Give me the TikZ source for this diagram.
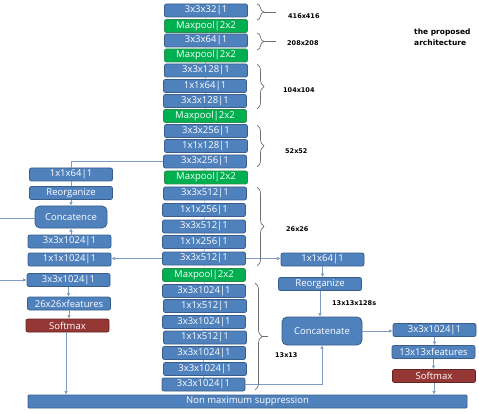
\documentclass[tikz,border=0pt]{standalone}
\usepackage{fontspec}
\usetikzlibrary{arrows.meta,decorations.pathreplacing,backgrounds}
\newfontfamily\boxfont{Open Sans}
\newfontfamily\lblfont{DejaVu Sans}
\definecolor{bfill}{HTML}{4F81BD}
\definecolor{bdraw}{HTML}{385D8A}
\definecolor{gfill}{HTML}{00B050}
\definecolor{gdraw}{HTML}{2E8B4F}
\definecolor{rfill}{HTML}{953735}
\definecolor{rdraw}{HTML}{632523}
\definecolor{conn}{HTML}{7F9DC4}
\definecolor{brc}{HTML}{6E6E6E}
\tikzset{
  blk/.style={draw=bdraw,fill=bfill,line width=0.8pt,rounded corners=2pt,minimum width=83pt,minimum height=13pt,inner sep=0pt,text=white,font=\boxfont\fontsize{9.5}{10}\selectfont},
  mp/.style={blk,draw=gdraw,fill=gfill},
  sm/.style={blk,draw=rdraw,fill=rfill},
  cat/.style={blk,rounded corners=5pt},
  cn/.style={draw=conn,line width=0.6pt},
  ca/.style={cn,-{Latex[length=3.5pt,width=3.5pt]}},
  br/.style={draw=brc,line width=0.7pt,decorate,decoration={brace,amplitude=7pt}},
  lbl/.style={anchor=west,inner sep=0pt,font=\lblfont\bfseries\fontsize{6.5}{7}\selectfont},
}
\begin{document}
\begin{tikzpicture}[x=1pt,y=-1pt]
\useasboundingbox (0,0) rectangle (479,414);
% main column
\node[blk] (m1) at (206,10.5) {3x3x32|1};
\node[mp]  (m2) at (206,26) {Maxpool|2x2};
\node[blk] (m3) at (206,40.5) {3x3x64|1};
\node[mp]  (m4) at (206,55.5) {Maxpool|2x2};
\node[blk] (m5) at (206,70.5) {3x3x128|1};
\node[blk] (m6) at (205,86) {1x1x64|1};
\node[blk] (m7) at (205,101) {3x3x128|1};
\node[mp]  (m8) at (205,116) {Maxpool|2x2};
\node[blk] (m9) at (206,131) {3x3x256|1};
\node[blk] (m10) at (206,146) {1x1x128|1};
\node[blk] (m11) at (205,161.5) {3x3x256|1};
\node[mp]  (m12) at (206,177.5) {Maxpool|2x2};
\node[blk] (m13) at (205,193.5) {3x3x512|1};
\node[blk] (m14) at (204,210) {1x1x256|1};
\node[blk] (m15) at (204,226.5) {3x3x512|1};
\node[blk] (m16) at (204,242) {1x1x256|1};
\node[blk] (m17) at (204,258.5) {3x3x512|1};
\node[mp]  (m18) at (204,275) {Maxpool|2x2};
\node[blk] (m19) at (204,291) {3x3x1024|1};
\node[blk] (m20) at (205,306) {1x1x512|1};
\node[blk] (m21) at (204,322) {3x3x1024|1};
\node[blk] (m22) at (205,337.5) {1x1x512|1};
\node[blk] (m23) at (204,353) {3x3x1024|1};
\node[blk] (m24) at (205,369) {3x3x1024|1};
\node[blk] (m25) at (203.5,384.5) {3x3x1024|1};
\begin{pgfonlayer}{background}
\draw[cn,line width=0.4pt] (m1.center) -- (m25.center);
\end{pgfonlayer}
% NMS
\node[blk,rounded corners=1pt,minimum width=439pt,minimum height=13pt] (nms) at (247.5,401.5) {Non maximum suppression};
% left branch
\node[blk] (l1) at (71,174.5) {1x1x64|1};
\node[blk] (l2) at (71,193) {Reorganize};
\node[cat,minimum width=72pt,minimum height=22pt] (l3) at (71,217) {Concatence};
\node[blk] (l4) at (69.5,241.5) {3x3x1024|1};
\node[blk] (l5) at (69.5,259.5) {1x1x1024|1};
\node[blk] (l6) at (68.5,280) {3x3x1024|1};
\node[blk] (l7) at (69,303.5) {26x26xfeatures};
\node[sm]  (l8) at (67.5,325.5) {Softmax};
% right branch
\node[blk] (r1) at (322.5,259.5) {1x1x64|1};
\node[blk] (r2) at (320,284) {Reorganize};
\node[cat,minimum width=80pt,minimum height=28pt] (r3) at (322,331) {Concatenate};
\node[blk] (r4) at (434.5,330) {3x3x1024|1};
\node[blk] (r5) at (433.5,352) {13x13xfeatures};
\node[sm]  (r6) at (434,376) {Softmax};
% coordinates for free ends
\coordinate (e1) at (0,218);
\coordinate (e2) at (0,280);
% connectors left
\draw[cn] (m11.west) -| (l1.north);
\draw[cn] (l1.south) -- (l2.north);
\draw[ca] (l2.south) -- (l3.north);
\draw[ca] (l4.north -| l3.south) -- (l3.south);
\draw[cn] (e1) -- (e1 -| l3.west);
\draw[ca] (m17.west) -- (m17.west -| l5.east);
\draw[ca] (e2) -- (l6.west);
\draw[ca] (l6.south) -- (l7.north -| l6.south);
\draw[ca] (l7.south) -- (l8.north -| l7.south);
\draw[ca] ([xshift=-1.5pt]l8.south) -- ([xshift=-1.5pt]l8.south |- nms.north);
% connectors right
\draw[ca] (m17.east) -- (m17.east -| r1.west);
\draw[ca] (r1.south) -- (r1.south |- r2.north);
\draw[ca] (r2.south) -- (r2.south |- r3.north);
\draw[ca] (m25.east) -| (r3.south);
\draw[ca] (r3.east) -- (r3.east -| r4.west);
\draw[ca] (r4.south) -- (r4.south |- r5.north);
\draw[ca] (r5.south) -- (r5.south |- r6.north);
\draw[ca] (r6.south) -- (r6.south |- nms.north);
% braces
\draw[br] (257,4) -- (257,20);
\draw[brc,line width=0.7pt] (264,12) -- (276,12);
\draw[br] (257,33) -- (257,50);
\draw[brc,line width=0.7pt] (264,41.5) -- (276,41.5);
\draw[br] (257,64) -- (257,109);
\draw[br] (257,125) -- (257,167);
\draw[br] (257,187) -- (257,266);
\draw[br] (255,283) -- (255,390);
\draw[brc,line width=0.7pt] (262,336.5) -- (268,336.5);
% labels
\node[lbl] (t1) at (288,16) {416x416};
\node[lbl] (t2) at (287,43) {208x208};
\node[lbl] (t3) at (283,90) {104x104};
\node[lbl] (t4) at (285,151) {52x52};
\node[lbl] (t5) at (286,229) {26x26};
\node[lbl] (t6) at (275,355) {13x13};
\node[lbl] (t7) at (332,303) {13x13x128s};
\node[lbl,align=left,font=\lblfont\bfseries\fontsize{7.5}{11}\selectfont] (t8) at (414,37.5) {the proposed\\architecture};
\end{tikzpicture}
\end{document}
